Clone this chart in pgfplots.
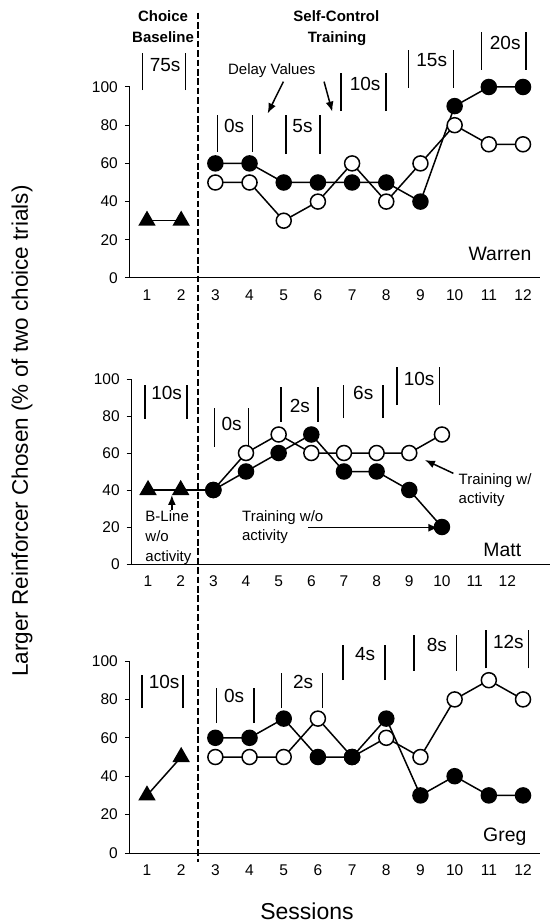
\documentclass[border=0pt]{standalone}
\usepackage{fontspec}
\setmainfont{Liberation Sans}
\usepackage{pgfplots}
\pgfplotsset{compat=1.18}
\usetikzlibrary{arrows.meta}

% fonts (picture is drawn at 0.5pt per reference pixel)
\newcommand{\tickfont}{\fontsize{7.75}{9}\selectfont}
\newcommand{\delayfont}{\fontsize{9.5}{11}\selectfont}
\newcommand{\notefont}{\fontsize{7.5}{9}\selectfont}
\newcommand{\namefont}{\fontsize{9.7}{11}\selectfont}

\tikzset{
  arr/.style={line width=0.75pt, -{Latex[length=5pt,width=4pt]}},
}

% delay bracket: x1, x2, ylow, yhigh, xlabel, ylabel, text
\newcommand{\delay}[7]{%
  \draw[line width=0.75pt] (axis cs:#1,#3) -- (axis cs:#1,#4) (axis cs:#2,#3) -- (axis cs:#2,#4);
  \node[font=\delayfont, inner sep=0pt] at (axis cs:#5,#6) {#7};}

\pgfplotsset{
  panel/.style={
    scale only axis,
    clip=false,
    xmin=0.5, ymin=0, ymax=100,
    axis x line=bottom, axis y line=left,
    axis line style={-, line width=0.5pt},
    xtick={1,...,12},
    xtick style={draw=none},
    minor xtick={0.5,1.5,...,12.5},
    ytick={0,20,...,100},
    tick align=outside,
    major tick length=2.5pt, minor tick length=2.5pt,
    tick style={black, line width=0.5pt},
    ticklabel style={font=\tickfont},
    /pgf/number format/assume math mode=true,
    every axis plot/.append style={black, line width=0.75pt, mark size=3.75pt},
  },
  open/.style={mark=*, mark options={fill=white, line width=0.75pt}},
  filled/.style={mark=*, mark options={fill=black}},
  tri/.style={mark=triangle*, mark size=4.3pt, mark options={fill=black}},
}

\begin{document}
\begin{tikzpicture}
\useasboundingbox (0,0) rectangle (275pt,-462pt);

% ---------------- Warren ----------------
\begin{axis}[panel, at={(64.95pt,-139pt)}, anchor=south west,
  width=205.1pt, height=95.5pt, xmax=12.5]
  \addplot[tri] coordinates {(1,30) (2,30)};
  \addplot[open] coordinates {(3,50) (4,50) (5,30) (6,40) (7,60) (8,40) (9,60) (10,80) (11,70) (12,70)};
  \addplot[filled] coordinates {(3,60) (4,60) (5,50) (6,50) (7,50) (8,50) (9,40) (10,90) (11,100) (12,100)};
  \delay{0.87}{2.12}{98.4}{117.8}{1.53}{111.5}{75s}
  \delay{3.06}{4.08}{66}{85.3}{3.55}{79.6}{0s}
  \delay{5.06}{6.06}{64.9}{85.3}{5.55}{79.6}{5s}
  \delay{6.67}{7.99}{87.4}{107.3}{7.38}{101.6}{10s}
  \delay{8.65}{9.96}{99.5}{119.4}{9.33}{114.1}{15s}
  \delay{10.79}{12.09}{108.9}{128.8}{11.48}{123}{20s}
  \node[font=\notefont\bfseries, anchor=base, inner sep=0pt] at (axis cs:1.47,134.2) {Choice};
  \node[font=\notefont\bfseries, anchor=base, inner sep=0pt] at (axis cs:1.47,123.2) {Baseline};
  \node[font=\notefont\bfseries, anchor=base, inner sep=0pt] at (axis cs:6.54,134.2) {Self-Control};
  \node[font=\notefont\bfseries, anchor=base, inner sep=0pt] at (axis cs:6.56,123.2) {Training};
  \node[font=\notefont, anchor=base, inner sep=0pt] at (axis cs:4.65,106.3) {Delay Values};
  \draw[arr] (axis cs:4.99,102.8) -- (axis cs:4.53,86.2);
  \draw[arr] (axis cs:6.18,102.8) -- (axis cs:6.42,87.1);
  \node[font=\namefont, anchor=base east, inner sep=0pt] at (axis cs:12.26,9.4) {Warren};
  \coordinate (dtop) at (axis cs:2.5,139);
\end{axis}

% ---------------- Matt ----------------
\begin{axis}[panel, at={(65.85pt,-282pt)}, anchor=south west,
  width=209pt, height=92.5pt, xmax=13.3]
  \addplot[tri] coordinates {(1,40) (2,40)};
  \addplot[no marks] coordinates {(2,40) (3,40)};
  \addplot[open] coordinates {(3,40) (4,60) (5,70) (6,60) (7,60) (8,60) (9,60) (10,70)};
  \addplot[filled] coordinates {(3,40) (4,50) (5,60) (6,70) (7,50) (8,50) (9,40) (10,20)};
  \delay{0.91}{2.19}{78.4}{96.8}{1.57}{92.3}{10s}
  \delay{3.03}{4.07}{63.4}{84.1}{3.56}{75.7}{0s}
  \delay{5.07}{6.21}{77}{95.5}{5.65}{85.4}{2s}
  \delay{6.98}{8.2}{78.8}{96.8}{7.59}{92.6}{6s}
  \delay{8.63}{9.92}{85.9}{106.3}{9.3}{100}{10s}
  \node[font=\notefont, anchor=base west, inner sep=0pt] at (axis cs:0.91,22.9) {B-Line};
  \node[font=\notefont, anchor=base west, inner sep=0pt] at (axis cs:0.91,12.1) {w/o};
  \node[font=\notefont, anchor=base west, inner sep=0pt] at (axis cs:0.91,1.6) {activity};
  \draw[arr] (axis cs:1.73,29) -- (axis cs:1.73,37.3);
  \node[font=\notefont, anchor=base west, inner sep=0pt] at (axis cs:3.87,22.9) {Training w/o};
  \node[font=\notefont, anchor=base west, inner sep=0pt] at (axis cs:3.87,12.6) {activity};
  \draw[arr] (axis cs:5.91,19.6) -- (axis cs:9.89,19.6);
  \node[font=\notefont, anchor=base west, inner sep=0pt] at (axis cs:10.5,43.2) {Training w/};
  \node[font=\notefont, anchor=base west, inner sep=0pt] at (axis cs:10.5,32.8) {activity};
  \draw[arr] (axis cs:10.35,49) -- (axis cs:9.48,56.2);
  \node[font=\namefont, anchor=base east, inner sep=0pt] at (axis cs:12.44,3.9) {Matt};
\end{axis}

% ---------------- Greg ----------------
\begin{axis}[panel, at={(64.95pt,-426.5pt)}, anchor=south west,
  width=205.1pt, height=96pt, xmax=12.5]
  \addplot[tri] coordinates {(1,30) (2,50)};
  \addplot[open] coordinates {(3,50) (4,50) (5,50) (6,70) (7,50) (8,60) (9,50) (10,80) (11,90) (12,80)};
  \addplot[filled] coordinates {(3,60) (4,60) (5,70) (6,50) (7,50) (8,70) (9,30) (10,40) (11,30) (12,30)};
  \delay{0.85}{2.06}{75.4}{92.7}{1.5}{88.9}{10s}
  \delay{3.04}{4.13}{67.6}{85.9}{3.55}{81.6}{0s}
  \delay{4.94}{6.14}{75.4}{93.6}{5.57}{88.9}{2s}
  \delay{6.74}{7.96}{90.1}{108.3}{7.38}{103.6}{4s}
  \delay{8.81}{10.06}{94.9}{113.5}{9.48}{108.3}{8s}
  \delay{10.92}{12.16}{96.2}{116.1}{11.57}{110}{12s}
  \node[font=\namefont, anchor=base east, inner sep=0pt] at (axis cs:12.11,5.9) {Greg};
  \coordinate (dbot) at (axis cs:2.5,-4.5);
\end{axis}

% phase line across all panels
\draw[line width=1.1pt, dash pattern=on 3.3pt off 1.4pt] (dtop) -- (dbot);

\node[rotate=90, font=\fontsize{11.25}{13}\selectfont] at (11pt,-215.5pt)
  {Larger Reinforcer Chosen (\% of two choice trials)};
\node[anchor=base, inner sep=0pt, font=\fontsize{11.5}{13}\selectfont] at (153.5pt,-459.5pt) {Sessions};
\end{tikzpicture}
\end{document}
